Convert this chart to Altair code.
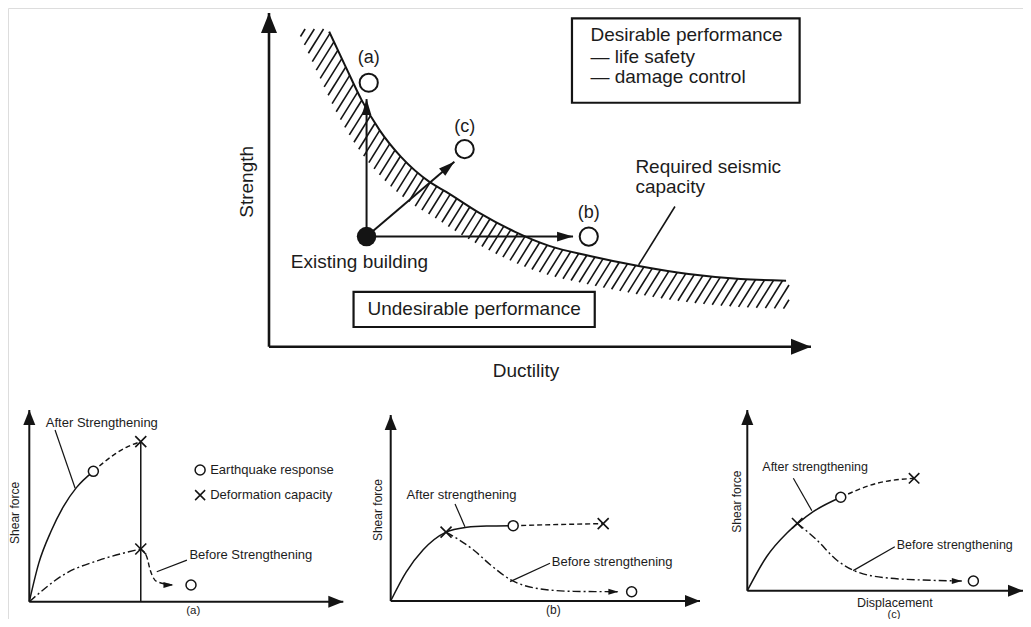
import altair as alt
import numpy as np
import pandas as pd

FONT = "Liberation Sans"
INK = "#141414"
TXT = "#1c1c1c"
MARGIN = 8

# ---------------------------------------------------------------- layout (page px of each panel's 0..100 axis range)
FRAME = {
    "main": {"px": (269, 811), "py": (346.7, 13)},
    "a": {"px": (29.3, 343.3), "py": (601.7, 410)},
    "b": {"px": (390.7, 700), "py": (601, 415)},
    "c": {"px": (747.3, 1023), "py": (590.7, 410)},
}

# ---------------------------------------------------------------- main diagram data (arbitrary units 0..100)
curve_ductility = [11.1, 14.0, 17.1, 20.4, 24.4, 29.6, 32.7, 38.8, 45.4, 51.7, 59.2, 68.2, 77.4, 87.0, 95.4]
curve_strength = [94.4, 84.4, 73.9, 64.9, 56.8, 49.4, 46.4, 40.1, 34.4, 30.2, 27.2, 24.2, 21.8, 20.3, 19.8]

existing_building = (18.0, 33.0)
option_labels = ["(a)", "(b)", "(c)"]
option_tip_x = [18.0, 56.1, 34.2]
option_tip_y = [74.2, 33.0, 55.4]
option_circle_x = [18.4, 59.0, 36.1]
option_circle_y = [79.1, 33.0, 59.2]
option_label_y = [86.5, 40.0, 65.9]

legend_box = (55.9, 73.1, 97.9, 98.4)
legend_lines = ["Desirable performance", "\u2014 life safety", "\u2014 damage control"]
legend_line_y = [93.4, 86.9, 80.7]
legend_x = 59.3
undesirable_box = (15.6, 5.9, 60.1, 16.4)
required_lines = ["Required seismic", "capacity"]
required_y = [53.9, 47.9]
required_x = 67.6
leader_main = (74.9, 42.0, 68.2, 24.5)

# ---------------------------------------------------------------- bottom panels data
a_after_x = [0, 3, 7, 11, 15, 20.4]
a_after_y = [0, 20, 37, 50, 59.5, 68]
a_after_dash_x = [20.4, 26.8, 31.5, 35.5]
a_after_dash_y = [68, 76.5, 81, 83.5]
a_before_x = [0, 11.9, 22.3, 35.5]
a_before_y = [0, 15.0, 21.7, 27.5]
a_drop_x = [35.5, 37.4, 38.5, 40.6, 45.9]
a_drop_y = [27.5, 23.5, 16.5, 10.5, 8.7]
a_capacity_x = [35.5, 35.5]
a_capacity_y = [83.5, 27.5]
a_response_x = [20.4, 51.5]
a_response_y = [68, 8.7]

b_after_x = [0, 5, 10.5, 17.9, 24.6, 31, 39.6]
b_after_y = [0, 15.5, 27.5, 37, 39.6, 40.3, 40.5]
b_after_dash_x = [39.6, 54, 68.7]
b_after_dash_y = [40.5, 41.1, 41.6]
b_before_x = [17.9, 22, 26.8, 32.2, 38.7, 48.3, 59.1, 73.6]
b_before_y = [37, 33, 27.4, 19.5, 11.5, 6.5, 5.2, 5.0]
b_capacity_x = [17.9, 68.7]
b_capacity_y = [37, 41.6]
b_response_x = [39.6, 77.9]
b_response_y = [40.5, 5.0]

c_after_x = [0, 7, 14.3, 19.1, 23.9, 33.9]
c_after_y = [0, 18.8, 31.8, 38.2, 43.7, 51.7]
c_after_dash_x = [33.9, 46.9, 60.5]
c_after_dash_y = [51.7, 59.4, 62.2]
c_before_x = [18.1, 25.2, 32.4, 39.7, 51.8, 63.8, 77.8]
c_before_y = [37.3, 28.1, 17.0, 10.5, 6.9, 5.9, 5.4]
c_capacity_x = [18.1, 60.5]
c_capacity_y = [37.3, 62.2]
c_response_x = [33.9, 82.0]
c_response_y = [51.7, 5.4]

# ---------------------------------------------------------------- helpers
AXIS_HEAD = "M0,0L-2,-0.8L-2,0.8Z"
SLIM_HEAD = "M0,0L-2,-0.6L-2,0.6Z"
XMARK = "M-1,-1L1,1M-1,1L1,-1"


def scales(p):
    f = FRAME[p]
    sx = alt.Scale(domain=[0, 100], range=[f["px"][0] - MARGIN, f["px"][1] - MARGIN], nice=False, zero=False)
    sy = alt.Scale(domain=[0, 100], range=[f["py"][0] - MARGIN, f["py"][1] - MARGIN], nice=False, zero=False)
    return sx, sy


def pos(p, seg=False):
    sx, sy = scales(p)
    e = {"x": alt.X("x:Q", scale=sx, axis=None), "y": alt.Y("y:Q", scale=sy, axis=None)}
    if seg:
        e["x2"] = alt.X2("x2:Q")
        e["y2"] = alt.Y2("y2:Q")
    return e


def screen_angle(p, x0, y0, x1, y1):
    f = FRAME[p]
    kx = (f["px"][1] - f["px"][0]) / 100
    ky = (f["py"][1] - f["py"][0]) / 100
    return float(np.degrees(np.arctan2((y1 - y0) * ky, (x1 - x0) * kx)) % 360)


def line(p, xs, ys, width, dash=None):
    df = pd.DataFrame({"x": xs, "y": ys, "o": list(range(len(xs)))})
    kw = dict(color=INK, strokeWidth=width, interpolate="monotone", strokeCap="butt")
    if dash:
        kw["strokeDash"] = dash
    return alt.Chart(df).mark_line(**kw).encode(order="o:Q", **pos(p))


def segs(p, x, y, x2, y2, width, dash=None):
    df = pd.DataFrame({"x": x, "y": y, "x2": x2, "y2": y2})
    kw = dict(color=INK, strokeWidth=width, strokeCap="butt")
    if dash:
        kw["strokeDash"] = dash
    return alt.Chart(df).mark_rule(**kw).encode(**pos(p, True))


def heads(p, xs, ys, angles, shape, size):
    df = pd.DataFrame({"x": xs, "y": ys, "ang": angles})
    return alt.Chart(df).mark_point(shape=shape, size=size, filled=True, color=INK,
                                    strokeWidth=0, opacity=1).encode(
        angle=alt.Angle("ang:Q", scale=None), **pos(p))


def circles(p, xs, ys, size, width, fill="white"):
    df = pd.DataFrame({"x": xs, "y": ys})
    return alt.Chart(df).mark_point(shape="circle", size=size, filled=True, fill=fill, stroke=INK,
                                    strokeWidth=width, opacity=1).encode(**pos(p))


def xmarks(p, xs, ys, size, width):
    df = pd.DataFrame({"x": xs, "y": ys})
    return alt.Chart(df).mark_point(shape=XMARK, size=size, filled=False, color=INK,
                                    strokeWidth=width, opacity=1).encode(**pos(p))


def texts(p, labels, xs, ys, size, align="center", angle=0):
    df = pd.DataFrame({"x": xs, "y": ys, "t": labels})
    kw = dict(font=FONT, fontSize=size, align=align, baseline="middle", color=TXT)
    if angle:
        kw["angle"] = angle
    return alt.Chart(df).mark_text(**kw).encode(text="t:N", **pos(p))


def box(p, b, width):
    df = pd.DataFrame({"x": [b[0]], "y": [b[1]], "x2": [b[2]], "y2": [b[3]]})
    return alt.Chart(df).mark_rect(fill="white", stroke=INK, strokeWidth=width).encode(**pos(p, True))


def axes(p, width, head_size):
    return [
        segs(p, [0, 0], [0, 0], [100, 0], [0, 100], width),
        heads(p, [100, 0], [0, 100], [0, 270], AXIS_HEAD, head_size),
    ]


# ---------------------------------------------------------------- hatching of the required-capacity band (decoration)
def dense_monotone(xs, ys, n=24):
    x = np.asarray(xs, float)
    y = np.asarray(ys, float)
    h = np.diff(x)
    s = np.diff(y) / h
    m = np.zeros_like(x)
    for i in range(1, len(x) - 1):
        pp = (s[i - 1] * h[i] + s[i] * h[i - 1]) / (h[i - 1] + h[i])
        m[i] = (np.sign(s[i - 1]) + np.sign(s[i])) * min(abs(s[i - 1]), abs(s[i]), 0.5 * abs(pp))
    m[0] = (3 * s[0] - m[1]) / 2
    m[-1] = (3 * s[-1] - m[-2]) / 2
    X, Y = [], []
    t = np.linspace(0, 1, n, endpoint=False)
    h00 = 2 * t ** 3 - 3 * t ** 2 + 1
    h10 = t ** 3 - 2 * t ** 2 + t
    h01 = -2 * t ** 3 + 3 * t ** 2
    h11 = t ** 3 - t ** 2
    for i in range(len(x) - 1):
        X.extend(x[i] + t * h[i])
        Y.extend(h00 * y[i] + h10 * h[i] * m[i] + h01 * y[i + 1] + h11 * h[i] * m[i + 1])
    X.append(x[-1])
    Y.append(y[-1])
    return np.array(X), np.array(Y)


def hatch_segments(band=28.0, spacing=7.8, theta=58.0, y_top=29.0, x_end=789.0):
    f = FRAME["main"]
    kx = (f["px"][1] - f["px"][0]) / 100
    ky = (f["py"][1] - f["py"][0]) / 100
    du, dv = dense_monotone(curve_ductility, curve_strength)
    UX = f["px"][0] + du * kx
    UY = f["py"][0] + dv * ky
    d0 = np.array([UX[1] - UX[0], UY[1] - UY[0]])
    d0 /= np.hypot(*d0)
    UX = np.concatenate([[UX[0] - 45 * d0[0]], UX, [UX[-1] + 120]])
    UY = np.concatenate([[UY[0] - 45 * d0[1]], UY, [UY[-1]]])
    tx = np.gradient(UX)
    ty = np.gradient(UY)
    nrm = np.hypot(tx, ty)
    tx, ty = tx / nrm, ty / nrm
    LX = UX - band * ty
    LY = UY + band * tx
    a = np.radians(theta)
    mx, my = np.sin(a), np.cos(a)
    gu = UX * mx + UY * my
    gl = np.maximum.accumulate(LX * mx + LY * my)
    out = []
    for s in np.arange(gl.min(), gu.max(), spacing):
        if s < gu.min() or s > gl.max():
            continue
        bx, by = np.interp(s, gu, UX), np.interp(s, gu, UY)
        ax_, ay = np.interp(s, gl, LX), np.interp(s, gl, LY)
        if ay < y_top or ax_ > x_end:
            continue
        if by < y_top:
            r = (ay - y_top) / (ay - by)
            bx, by = ax_ + (bx - ax_) * r, ay + (by - ay) * r
        if bx > x_end:
            r = (x_end - ax_) / (bx - ax_)
            bx, by = ax_ + (bx - ax_) * r, ay + (by - ay) * r
        out.append(((ax_ - f["px"][0]) / kx, (ay - f["py"][0]) / ky,
                    (bx - f["px"][0]) / kx, (by - f["py"][0]) / ky))
    arr = np.array(out)
    return arr[:, 0], arr[:, 1], arr[:, 2], arr[:, 3]


# ---------------------------------------------------------------- build layers
layers = []

# main panel
hx, hy, hx2, hy2 = hatch_segments()
layers.append(segs("main", hx, hy, hx2, hy2, 1.6))
layers.append(line("main", curve_ductility, curve_strength, 2.0))
layers += axes("main", 2.6, 400)
bx0, by0 = existing_building
layers.append(segs("main", [bx0] * 3, [by0] * 3, option_tip_x, option_tip_y, 2.0))
layers.append(heads("main", option_tip_x, option_tip_y,
                    [screen_angle("main", bx0, by0, tx_, ty_) for tx_, ty_ in zip(option_tip_x, option_tip_y)],
                    SLIM_HEAD, 256))
layers.append(circles("main", option_circle_x, option_circle_y, 330, 2.0))
layers.append(circles("main", [bx0], [by0], 380, 0, fill=INK))
layers.append(texts("main", option_labels, option_circle_x, option_label_y, 18))
layers.append(box("main", legend_box, 2.2))
layers.append(texts("main", legend_lines, [legend_x] * 3, legend_line_y, 19, align="left"))
layers.append(box("main", undesirable_box, 2.2))
layers.append(texts("main", ["Undesirable performance"], [(undesirable_box[0] + undesirable_box[2]) / 2],
                    [(undesirable_box[1] + undesirable_box[3]) / 2], 19))
layers.append(texts("main", ["Existing building"], [16.7], [25.5], 19))
layers.append(texts("main", required_lines, [required_x] * 2, required_y, 19, align="left"))
layers.append(segs("main", [leader_main[0]], [leader_main[1]], [leader_main[2]], [leader_main[3]], 1.6))
layers.append(texts("main", ["Ductility"], [47.4], [-7.2], 19))
layers.append(texts("main", ["Strength"], [-4.0], [49.4], 19, angle=270))

DASH = [5, 3]
DASHDOT = [8, 3, 2, 3]

# panel (a)
layers += axes("a", 2.0, 225)
layers.append(segs("a", [a_capacity_x[0]], [0], [a_capacity_x[0]], [a_capacity_y[0]], 1.5))
layers.append(line("a", a_after_x, a_after_y, 1.5))
layers.append(line("a", a_after_dash_x, a_after_dash_y, 1.4, DASH))
layers.append(line("a", a_before_x, a_before_y, 1.4, DASHDOT))
layers.append(line("a", a_drop_x, a_drop_y, 1.4, DASH))
layers.append(heads("a", [a_drop_x[-1]], [a_drop_y[-1]], [0], SLIM_HEAD, 100))
layers.append(segs("a", [8.2, 50.2], [89.6, 21.7], [14.6, 40.6], [59.2, 15.6], 1.2))
layers.append(xmarks("a", a_capacity_x, a_capacity_y, 121, 1.6))
layers.append(circles("a", a_response_x, a_response_y, 100, 1.5))
layers.append(circles("a", [54.4], [68.7], 100, 1.5))
layers.append(xmarks("a", [54.4], [55.6], 100, 1.5))
layers.append(texts("a", ["After Strengthening"], [23.1], [93.4], 13))
layers.append(texts("a", ["Before Strengthening", "Earthquake response", "Deformation capacity"],
                    [51.0, 57.6, 57.6], [24.4, 68.7, 55.6], 13, align="left"))
layers.append(texts("a", ["(a)"], [52.2], [-4.6], 11.5))
layers.append(texts("a", ["Shear force"], [-4.5], [46.3], 12, angle=270))

# panel (b)
layers += axes("b", 2.0, 225)
layers.append(line("b", b_after_x, b_after_y, 1.5))
layers.append(line("b", b_after_dash_x, b_after_dash_y, 1.4, DASH))
layers.append(line("b", b_before_x, b_before_y, 1.4, DASHDOT))
layers.append(heads("b", [b_before_x[-1]], [b_before_y[-1]], [0], SLIM_HEAD, 100))
layers.append(segs("b", [20.8, 51.5], [52.2, 20.3], [24.0, 38.6], [39.9, 10.4], 1.2))
layers.append(xmarks("b", b_capacity_x, b_capacity_y, 121, 1.6))
layers.append(circles("b", b_response_x, b_response_y, 100, 1.5))
layers.append(texts("b", ["After strengthening"], [22.9], [57.0], 13))
layers.append(texts("b", ["Before strengthening"], [52.1], [21.1], 13, align="left"))
layers.append(texts("b", ["(b)"], [52.6], [-4.8], 12))
layers.append(texts("b", ["Shear force"], [-4.1], [48.9], 12, angle=270))

# panel (c)
layers += axes("c", 2.0, 225)
layers.append(line("c", c_after_x, c_after_y, 1.5))
layers.append(line("c", c_after_dash_x, c_after_dash_y, 1.4, DASH))
layers.append(line("c", c_before_x, c_before_y, 1.4, DASHDOT))
layers.append(heads("c", [c_before_x[-1]], [c_before_y[-1]], [0], SLIM_HEAD, 100))
layers.append(segs("c", [16.7, 53.5], [62.2, 24.3], [23.4, 38.4], [44.3, 11.1], 1.2))
layers.append(xmarks("c", c_capacity_x, c_capacity_y, 110, 1.6))
layers.append(circles("c", c_response_x, c_response_y, 100, 1.5))
layers.append(texts("c", ["After strengthening"], [24.6], [68.6], 12.5))
layers.append(texts("c", ["Before strengthening"], [54.2], [25.3], 12.5, align="left"))
layers.append(texts("c", ["Displacement"], [53.5], [-6.6], 12.5))
layers.append(texts("c", ["(c)"], [53.2], [-13.4], 11))
layers.append(texts("c", ["Shear force"], [-3.8], [49.3], 12, angle=270))

chart = alt.layer(*layers).resolve_scale(x="independent", y="independent").properties(
    width=1015, height=611, padding=0, autosize=alt.AutoSizeParams(type="none")
).configure_view(strokeWidth=0).configure(background="white")

chart.save("out.html", embed_options={"renderer": "svg", "actions": False})
